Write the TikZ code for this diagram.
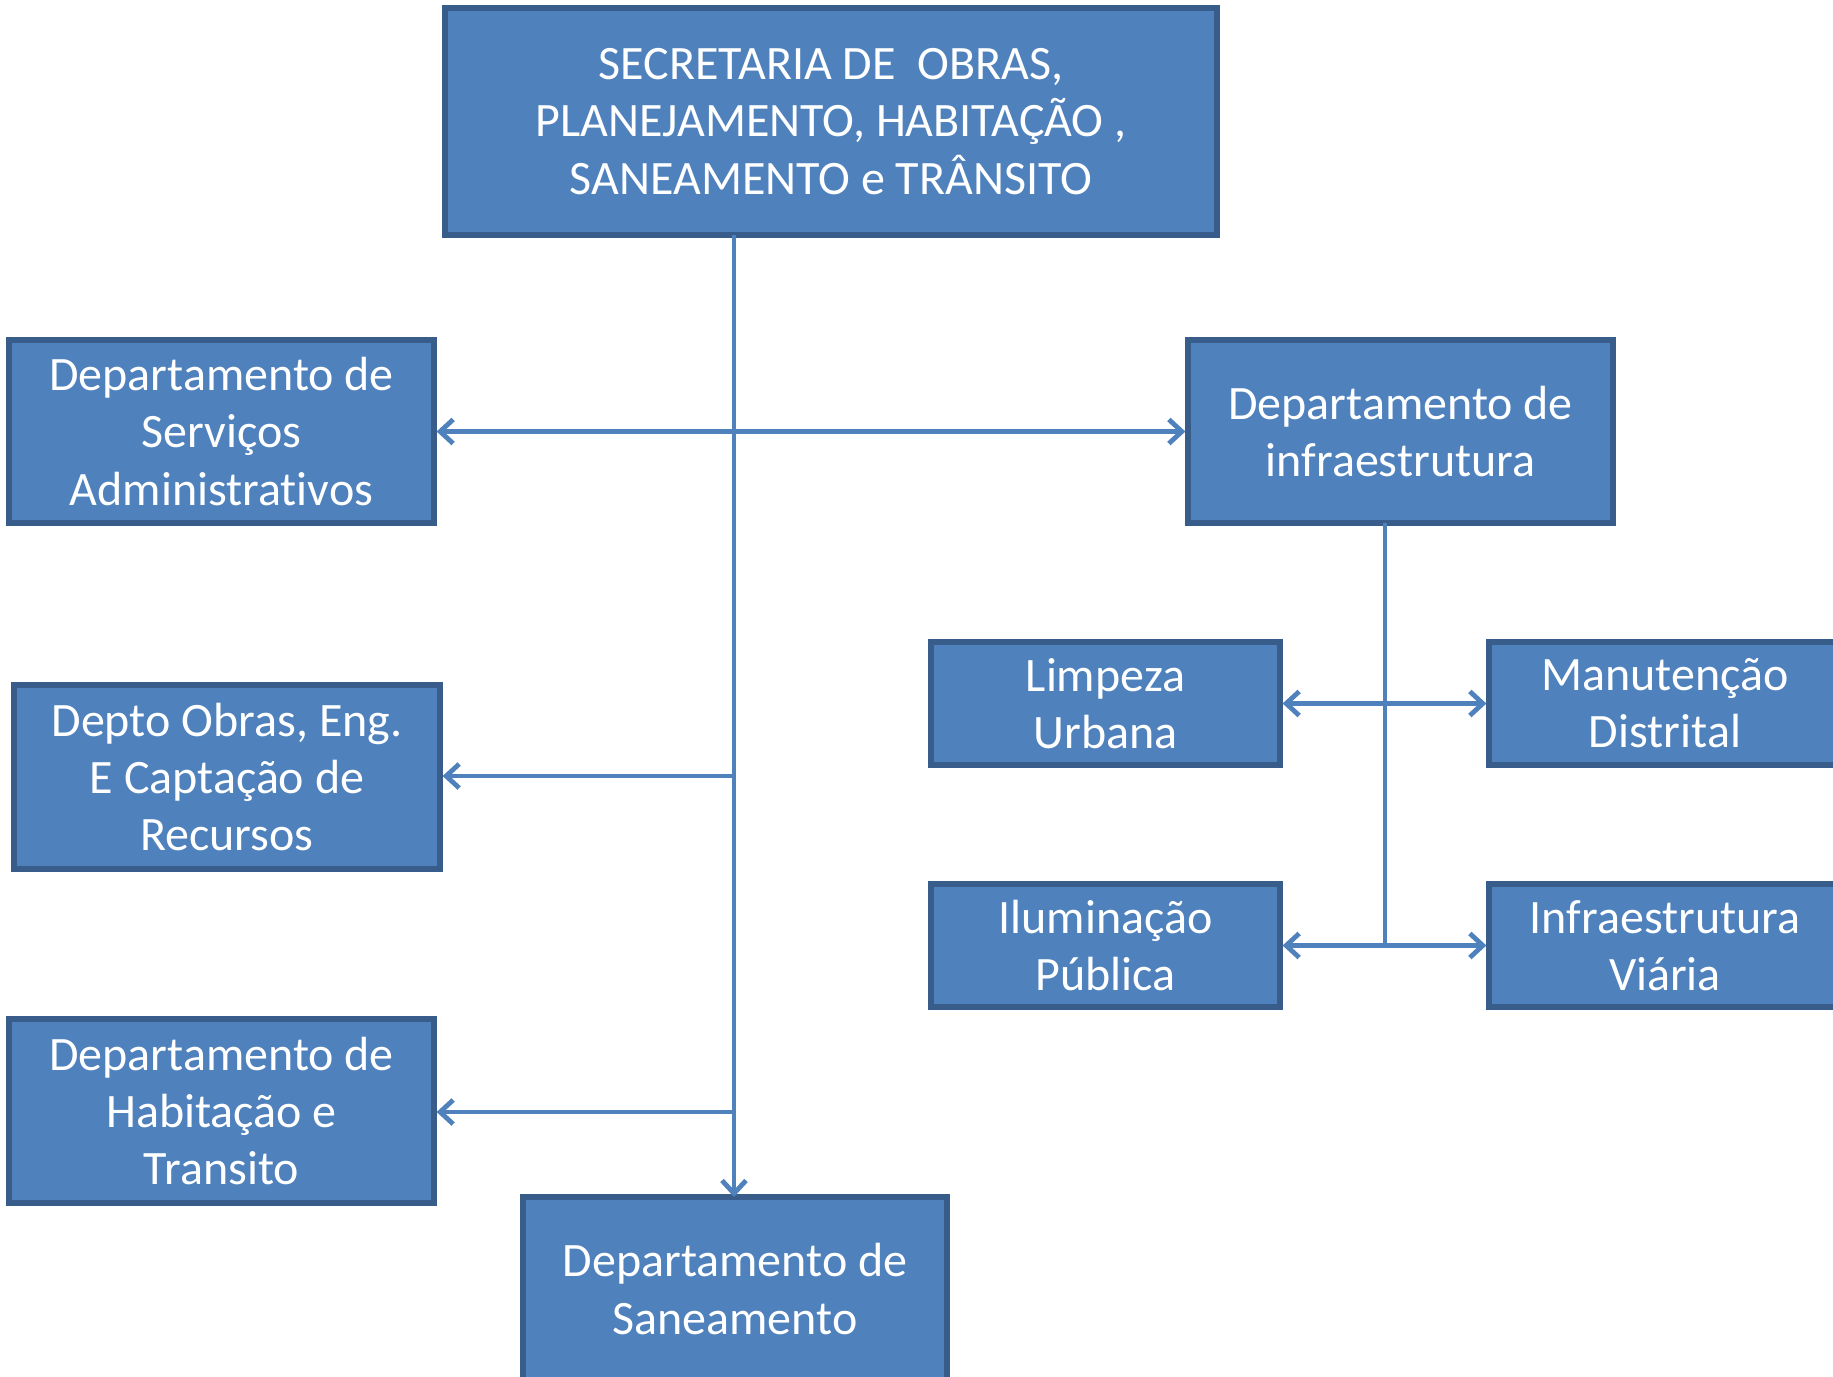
\documentclass[tikz,border=0pt]{standalone}
\usepackage{fontspec}
\setmainfont[Ligatures={NoCommon}]{Carlito}
\usetikzlibrary{arrows.meta}
\definecolor{boxfill}{HTML}{4F81BD}
\definecolor{boxline}{HTML}{385D8A}
\begin{document}
\begin{tikzpicture}[x=0.5pt,y=-0.5pt,
  orgbox/.style={draw=boxline, line width=2.6pt, fill=boxfill, text=white,
    align=center, inner sep=0pt, font=\fontsize{24}{28.6}\selectfont},
  conn/.style={draw=boxfill, line width=2.4pt},
  tip/.style={-{Straight Barb[length=6.5pt,width=12pt,line width=2.4pt]}},
  tips/.style={{Straight Barb[length=6.5pt,width=12pt,line width=2.4pt]}-{Straight Barb[length=6.5pt,width=12pt,line width=2.4pt]}}
]
\useasboundingbox (0,0) rectangle (1833,1377);
\begin{scope}
\clip (0,0) rectangle (1833,1377);
\node[orgbox, minimum width=386pt, minimum height=113.5pt] (top) at (831,121.5)
  {SECRETARIA DE~ OBRAS,\\PLANEJAMENTO, HABITAÇÃO ,\\SANEAMENTO e TRÂNSITO};
\node[orgbox, minimum width=212.5pt, minimum height=91.5pt] (dsa) at (221.5,431.5)
  {Departamento de\\Serviços\\Administrativos};
\node[orgbox, minimum width=212.5pt, minimum height=91.5pt] (infra) at (1400.5,431.5)
  {Departamento de\\infraestrutura};
\node[orgbox, minimum width=213pt, minimum height=92pt] (obras) at (227,777)
  {Depto Obras, Eng.\\E Captação de\\Recursos};
\node[orgbox, minimum width=212.5pt, minimum height=92pt] (hab) at (221.5,1111)
  {Departamento de\\Habitação e\\Transito};
\node[orgbox, minimum width=212pt, minimum height=92pt] (san) at (735,1289)
  {Departamento de\\Saneamento};
\node[orgbox, minimum width=174.5pt, minimum height=61.5pt] (limp) at (1105.5,703.5)
  {Limpeza\\Urbana};
\node[orgbox, minimum width=176pt, minimum height=61.5pt] (manut) at (1665,703.5)
  {Manutenção\\Distrital};
\node[orgbox, minimum width=174.5pt, minimum height=61.5pt] (ilum) at (1105.5,945.5)
  {Iluminação\\Pública};
\node[orgbox, minimum width=176pt, minimum height=61.5pt] (viar) at (1665,945.5)
  {Infraestrutura\\Viária};
\end{scope}
% main trunk
\coordinate (t1) at (734,235);
\coordinate (j2) at (734,776);
\coordinate (j3) at (734,1112);
\draw[conn, tip] (t1) -- (734,1197);
\draw[conn, tips] (dsa.east) -- (infra.west);
\draw[conn, tip] (j2) -- (obras.east |- j2);
\draw[conn, tip] (j3) -- (hab.east |- j3);
% infrastructure branch
\coordinate (i1) at (1385,523);
\coordinate (i2) at (1385,945.5);
\draw[conn] (i1) -- (i2);
\draw[conn, tips] (limp.east) -- (manut.west);
\draw[conn, tips] (ilum.east) -- (viar.west);
\end{tikzpicture}
\end{document}
